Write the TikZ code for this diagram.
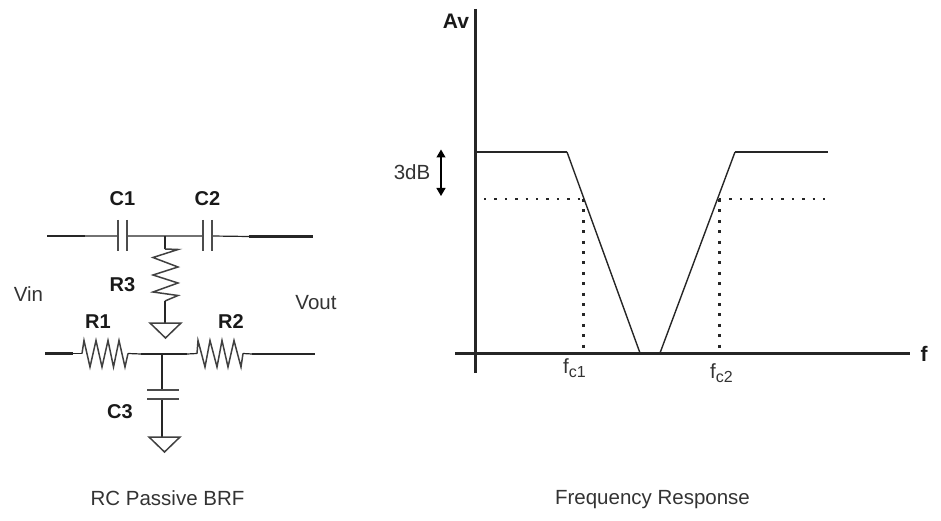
\documentclass[tikz,border=0pt]{standalone}
\usepackage{fontspec}
\setmainfont{Liberation Sans}
\usetikzlibrary{arrows.meta}
\newcommand{\lowsub}[1]{\raisebox{-4.5pt}{\fontsize{16}{18}\selectfont #1}}
\tikzset{
 wire/.style={draw=black!85,line width=1.2pt},
 bus/.style={draw=black!85,line width=2.4pt},
 axis/.style={draw=black!85,line width=2.4pt},
 dots/.style={draw=black!85,line width=3pt,dash pattern=on 3pt off 7.4pt},
 dotsthin/.style={draw=black!85,line width=2.2pt,dash pattern=on 2.4pt off 8pt},
 plate/.style={draw=black!70,line width=1.8pt},
 res/.style={draw=black!75,line width=1.5pt,line join=miter},
 lab/.style={font=\fontsize{20.5}{22}\selectfont,text=black!80,inner sep=0pt},
 blab/.style={font=\fontsize{20}{22}\selectfont\bfseries,text=black!90,inner sep=0pt},
 blabbig/.style={font=\fontsize{21}{23}\selectfont\bfseries,text=black!90,inner sep=0pt},
}
\begin{document}
\begin{tikzpicture}[x=1pt,y=-1pt]
\useasboundingbox (0,0) rectangle (941,521);
% top branch
\coordinate (tl) at (47,236);
\coordinate (tl2) at (85,236);
\coordinate (c1a) at (118,236);
\coordinate (c1b) at (127,236);
\coordinate (tj) at (165,236);
\coordinate (c2a) at (203,236);
\coordinate (c2b) at (212,236);
\coordinate (tr2) at (249,236.5);
\coordinate (tr) at (313,236.5);
\draw[bus] (tl) -- (tl2);
\draw[wire] (tl2) -- (c1a) (c1b) -- (c2a) (c2b) -- (tr2);
\draw[bus] (tr2) -- (tr);
\draw[plate] (118,220) -- (118,251) (127,220) -- (127,251) (203,220) -- (203,251) (212,220) -- (212,251);
\coordinate (r3t) at (165,249);
\coordinate (r3b) at (165,301);
\coordinate (g1) at (165,323);
\draw[wire] (tj) -- (r3t);
\draw[res] (r3t) -- (178,249.5) -- (153,257.5) -- (178,267) -- (153,275) -- (178,283) -- (153,292) -- (178,295.5) -- (r3b);
\draw[wire] (r3b) -- (g1);
\draw[res] (150,323) -- (181,323) -- (165.5,338) -- cycle;
% bottom branch
\coordinate (bl) at (45,353.5);
\coordinate (bl2) at (73,353.5);
\coordinate (r1a) at (82,353.5);
\coordinate (r1b) at (128,353.5);
\coordinate (bm1) at (141,354);
\coordinate (bj) at (162,354);
\coordinate (bm2) at (187,354);
\coordinate (r2a) at (197,353.5);
\coordinate (r2b) at (243,353.5);
\coordinate (br2) at (252,354);
\coordinate (br) at (315,354);
\draw[bus] (bl) -- (bl2);
\draw[wire] (bl2) -- (r1a);
\draw[res] (r1a) -- (84,340.5) -- (90,367) -- (96,340.5) -- (102,367) -- (108,340.5) -- (113.5,367) -- (119,340.5) -- (125,367) -- (r1b);
\draw[wire] (r1b) -- (bm1);
\draw[bus] (bm1) -- (bm2);
\draw[wire] (bm2) -- (r2a);
\draw[res] (r2a) -- (198,340.5) -- (205,367) -- (210,340.5) -- (217,367) -- (222,340.5) -- (228,367) -- (234,340.5) -- (241,367) -- (r2b);
\draw[wire] (r2b) -- (br2);
\draw[bus] (br2) -- (br);
\coordinate (c3a) at (162,390);
\coordinate (c3b) at (162,399);
\coordinate (g2) at (162,437);
\draw[wire] (bj) -- (c3a) (c3b) -- (g2);
\draw[plate] (147,390) -- (179,390) (147,399) -- (179,399);
\draw[res] (149,437) -- (180,437) -- (164.5,452) -- cycle;
% labels left
\node[blab] (C1) at (122.5,199) {C1};
\node[blab] (C2) at (207.5,199) {C2};
\node[blab] (R3) at (122.5,284.5) {R3};
\node[lab] (Vin) at (28.5,294) {Vin};
\node[lab] (Vout) at (316,303) {Vout};
\node[blab] (R1) at (98,322) {R1};
\node[blab] (R2) at (231,322) {R2};
\node[blab] (C3) at (120,411.5) {C3};
\node[lab,anchor=base] (cap1) at (167.5,505) {RC Passive BRF};
\node[lab,anchor=base] (cap2) at (652.5,504.5) {Frequency Response};
% graph
\coordinate (yt) at (475.5,9);
\coordinate (yb) at (475.5,373);
\coordinate (xl) at (455,353.5);
\coordinate (xr) at (910,353.5);
\draw[axis] (yt) -- (yb);
\draw[axis] (xl) -- (xr);
\coordinate (p1) at (475.5,152);
\coordinate (p2) at (567,152);
\coordinate (p3) at (640,353);
\coordinate (p4) at (660,353);
\coordinate (p5) at (735,152);
\coordinate (p6) at (828,152);
\draw[axis] (p1) -- (p2);
\draw[draw=black!85,line width=1.4pt] (p2) -- (p3) (p4) -- (p5);
\draw[axis] (p5) -- (p6);
\coordinate (d1) at (484,199);
\coordinate (d2) at (583,199);
\coordinate (d3) at (583,353);
\coordinate (d4) at (719,199);
\coordinate (d5) at (719,353);
\coordinate (d6) at (826,199);
\draw[dotsthin] (d1) -- (d2);
\draw[dots] (d2) -- (d3);
\draw[dots] (d4) -- (d5);
\draw[dotsthin] (d4) -- (d6);
\coordinate (a1) at (441,149.5);
\coordinate (a2) at (441,196);
\draw[draw=black,line width=1.2pt,{Triangle[width=9pt,length=8pt]}-{Triangle[width=9pt,length=8pt]}] (a1) -- (a2);
\node[lab] (db) at (412,172) {3dB};
\node[blabbig,anchor=base] (Av) at (456,29) {Av};
\node[blabbig,anchor=base] (f) at (924,361) {f};
\node[lab,anchor=base west] (fc1) at (563,373) {f\lowsub{c1}};
\node[lab,anchor=base west] (fc2) at (710,378) {f\lowsub{c2}};
\end{tikzpicture}
\end{document}
